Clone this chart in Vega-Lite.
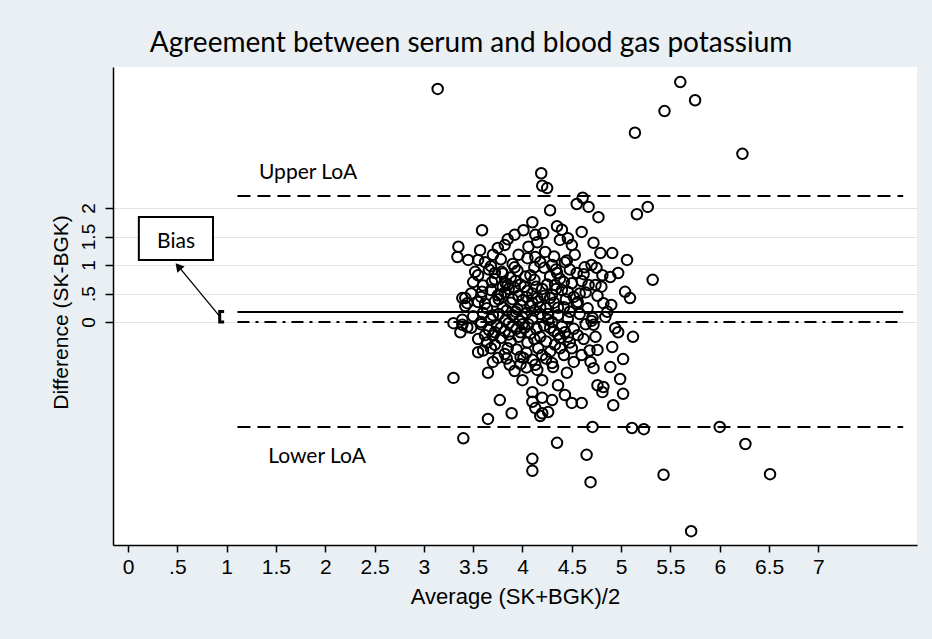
{
  "$schema": "https://vega.github.io/schema/vega-lite/v6.json",
  "width": 804,
  "height": 478,
  "autosize": {"type": "none"},
  "padding": {"left": 113, "top": 67, "right": 15, "bottom": 94},
  "background": "#e9eff2",
  "title": {"text": "Agreement between serum and blood gas potassium", "font": "Lato", "fontSize": 28, "fontWeight": "normal", "color": "black", "anchor": "middle", "dx": -44, "offset": 9},
  "config": {
    "view": {"fill": "white", "stroke": null},
    "axis": {"domainColor": "black", "tickColor": "black", "labelColor": "black", "titleColor": "black", "titleFontWeight": "normal", "domainWidth": 1.5, "tickWidth": 1.5}
  },
  "encoding": {
    "x": {"field": "average", "type": "quantitative", "scale": {"domain": [-0.152, 8.0], "nice": false, "zero": false},
      "axis": {"title": "Average (SK+BGK)/2", "values": [0, 0.5, 1, 1.5, 2, 2.5, 3, 3.5, 4, 4.5, 5, 5.5, 6, 6.5, 7], "labelExpr": "datum.value == 0.5 ? '.5' : format(datum.value, '~g')", "grid": false, "tickSize": 7, "labelFont": "Liberation Sans", "titleFont": "Liberation Sans", "labelFontSize": 21, "labelPadding": 4, "titleFontSize": 22, "titlePadding": 9, "labelFlush": false, "labelOverlap": false}},
    "y": {"field": "difference", "type": "quantitative", "scale": {"domain": [-3.912, 4.474], "nice": false, "zero": false},
      "axis": {"title": "Difference (SK-BGK)", "values": [0, 0.5, 1, 1.5, 2], "labelExpr": "datum.value == 0.5 ? '.5' : format(datum.value, '~g')", "grid": true, "gridColor": "#dbe5ea", "gridWidth": 1.2, "tickSize": 8, "labelFont": "Liberation Sans", "titleFont": "Liberation Sans", "labelFontSize": 19, "labelAngle": -90, "labelAlign": "center", "labelBaseline": "alphabetic", "labelPadding": 11, "labelOverlap": false, "labelFlush": false, "titleFontSize": 21, "titleAngle": -90, "titleAlign": "center", "titleBaseline": "alphabetic", "titleX": -46, "titleY": 245}}
  },
  "layer": [
    {
      "data": {"values": [
        {"line": "upper", "average": 1.11, "average2": 7.86, "difference": 2.21}
      ]},
      "mark": {"type": "rule", "color": "black", "strokeWidth": 2, "strokeDash": [13, 7]},
      "encoding": {"x2": {"field": "average2"}}
    },
    {
      "data": {"values": [
        {"line": "lower", "average": 1.11, "average2": 7.86, "difference": -1.84}
      ]},
      "mark": {"type": "rule", "color": "black", "strokeWidth": 2, "strokeDash": [13, 7]},
      "encoding": {"x2": {"field": "average2"}}
    },
    {
      "data": {"values": [
        {"line": "bias", "average": 1.11, "average2": 7.86, "difference": 0.175}
      ]},
      "mark": {"type": "rule", "color": "black", "strokeWidth": 2},
      "encoding": {"x2": {"field": "average2"}}
    },
    {
      "data": {"values": [
        {"line": "zero", "average": 1.11, "average2": 7.86, "difference": 0}
      ]},
      "mark": {"type": "rule", "color": "black", "strokeWidth": 2, "strokeDash": [12, 6, 3, 6]},
      "encoding": {"x2": {"field": "average2"}}
    },
    {
      "data": {"values": [
        {"o": 1, "average": 0.975, "difference": 0.185},
        {"o": 2, "average": 0.93, "difference": 0.185},
        {"o": 3, "average": 0.93, "difference": 0.0},
        {"o": 4, "average": 0.975, "difference": 0.0}
      ]},
      "mark": {"type": "line", "color": "black", "strokeWidth": 3},
      "encoding": {"order": {"field": "o", "type": "quantitative"}}
    },
    {
      "data": {"values": [
        {"o": 1, "average": 0.93, "difference": 0.1},
        {"o": 2, "average": 0.52, "difference": 0.96}
      ]},
      "mark": {"type": "line", "color": "black", "strokeWidth": 1.3},
      "encoding": {"order": {"field": "o", "type": "quantitative"}}
    },
    {
      "data": {"values": [
        {"average": 0.51, "difference": 0.975}
      ]},
      "mark": {"type": "point", "shape": "triangle-up", "filled": true, "color": "black", "size": 90, "angle": -40, "opacity": 1},
      "encoding": {}
    },
    {
      "data": {"values": [
        {"average": 0.11, "average2": 0.862, "difference": 1.842, "difference2": 1.088}
      ]},
      "mark": {"type": "rect", "fill": "white", "stroke": "black", "strokeWidth": 2},
      "encoding": {"x2": {"field": "average2"}, "y2": {"field": "difference2"}}
    },
    {
      "data": {"values": [
        {"label": "Bias", "average": 0.487, "difference": 1.404},
        {"label": "Upper LoA", "average": 1.826, "difference": 2.614},
        {"label": "Lower LoA", "average": 1.917, "difference": -2.368}
      ]},
      "mark": {"type": "text", "font": "Lato", "fontSize": 21, "color": "black", "align": "center", "baseline": "middle"},
      "encoding": {"text": {"field": "label"}}
    },
    {
      "data": {"values": [
        {"average": 3.14, "difference": 4.09}, {"average": 5.60, "difference": 4.21}, {"average": 5.75, "difference": 3.89}, {"average": 5.44, "difference": 3.70},
        {"average": 5.14, "difference": 3.32}, {"average": 6.23, "difference": 2.95}, {"average": 4.19, "difference": 2.61}, {"average": 4.20, "difference": 2.39},
        {"average": 4.25, "difference": 2.35}, {"average": 4.28, "difference": 1.96}, {"average": 4.61, "difference": 2.18}, {"average": 4.55, "difference": 2.07},
        {"average": 4.67, "difference": 2.02}, {"average": 4.77, "difference": 1.84}, {"average": 5.16, "difference": 1.89}, {"average": 5.27, "difference": 2.02},
        {"average": 4.35, "difference": 1.68}, {"average": 4.60, "difference": 1.58}, {"average": 4.46, "difference": 1.47}, {"average": 4.38, "difference": 1.44},
        {"average": 4.72, "difference": 1.39}, {"average": 4.79, "difference": 1.21}, {"average": 4.91, "difference": 1.21}, {"average": 5.06, "difference": 1.09},
        {"average": 4.97, "difference": 0.86}, {"average": 4.89, "difference": 0.79}, {"average": 4.81, "difference": 0.82}, {"average": 5.32, "difference": 0.74},
        {"average": 5.04, "difference": 0.53}, {"average": 5.09, "difference": 0.42}, {"average": 4.82, "difference": 0.33}, {"average": 4.67, "difference": 0.65},
        {"average": 4.55, "difference": 0.86}, {"average": 4.43, "difference": 1.05}, {"average": 4.30, "difference": 1.00}, {"average": 4.53, "difference": 1.18},
        {"average": 4.63, "difference": 0.96}, {"average": 4.74, "difference": 0.65}, {"average": 4.33, "difference": 0.65}, {"average": 4.46, "difference": 0.53},
        {"average": 4.56, "difference": 0.35}, {"average": 4.36, "difference": 0.25}, {"average": 4.28, "difference": 0.42}, {"average": 4.86, "difference": 0.18},
        {"average": 4.71, "difference": 0.07},
        {"average": 3.59, "difference": 1.61}, {"average": 3.35, "difference": 1.32}, {"average": 3.34, "difference": 1.14}, {"average": 3.45, "difference": 1.09},
        {"average": 3.55, "difference": 1.09}, {"average": 3.57, "difference": 1.26}, {"average": 3.70, "difference": 1.18}, {"average": 3.82, "difference": 1.35},
        {"average": 3.92, "difference": 1.53}, {"average": 4.01, "difference": 1.61}, {"average": 4.13, "difference": 1.53}, {"average": 4.21, "difference": 1.56},
        {"average": 4.06, "difference": 1.32}, {"average": 3.96, "difference": 1.18}, {"average": 4.13, "difference": 1.14}, {"average": 4.23, "difference": 1.23},
        {"average": 3.55, "difference": 0.82}, {"average": 3.39, "difference": 0.42}, {"average": 3.44, "difference": 0.33}, {"average": 3.59, "difference": 0.53},
        {"average": 3.69, "difference": 0.70}, {"average": 3.79, "difference": 0.88}, {"average": 3.85, "difference": 0.65}, {"average": 3.75, "difference": 0.47},
        {"average": 3.85, "difference": 1.45}, {"average": 4.15, "difference": 1.40}, {"average": 4.50, "difference": 1.35}, {"average": 4.10, "difference": 1.75},
        {"average": 4.40, "difference": 1.62}, {"average": 3.75, "difference": 1.30},
        {"average": 4.84, "difference": 0.09}, {"average": 4.72, "difference": -0.05}, {"average": 4.94, "difference": -0.11}, {"average": 4.97, "difference": -0.18},
        {"average": 5.12, "difference": -0.26}, {"average": 4.74, "difference": -0.26}, {"average": 4.91, "difference": -0.44}, {"average": 4.76, "difference": -0.49},
        {"average": 5.02, "difference": -0.65}, {"average": 4.89, "difference": -0.79}, {"average": 4.69, "difference": -0.70}, {"average": 4.72, "difference": -0.81},
        {"average": 4.45, "difference": -0.89}, {"average": 4.99, "difference": -1.00}, {"average": 4.76, "difference": -1.11}, {"average": 4.82, "difference": -1.14},
        {"average": 4.81, "difference": -1.23}, {"average": 5.02, "difference": -1.26}, {"average": 4.36, "difference": -1.11}, {"average": 4.43, "difference": -1.28},
        {"average": 4.50, "difference": -1.42}, {"average": 4.60, "difference": -1.42}, {"average": 4.92, "difference": -1.46}, {"average": 4.30, "difference": -1.37},
        {"average": 4.26, "difference": -1.58}, {"average": 4.71, "difference": -1.84}, {"average": 5.11, "difference": -1.86}, {"average": 5.23, "difference": -1.88},
        {"average": 4.35, "difference": -2.12}, {"average": 4.65, "difference": -2.33}, {"average": 4.50, "difference": -0.46}, {"average": 4.60, "difference": -0.58},
        {"average": 4.33, "difference": -0.40}, {"average": 4.56, "difference": -0.23}, {"average": 4.43, "difference": -0.18}, {"average": 4.30, "difference": 0.00},
        {"average": 3.30, "difference": -0.02}, {"average": 3.39, "difference": -0.05}, {"average": 3.44, "difference": -0.09}, {"average": 3.37, "difference": -0.18},
        {"average": 3.55, "difference": -0.53}, {"average": 3.65, "difference": -0.89}, {"average": 3.30, "difference": -0.98}, {"average": 3.77, "difference": -1.37},
        {"average": 3.89, "difference": -1.60}, {"average": 3.65, "difference": -1.70}, {"average": 3.40, "difference": -2.04}, {"average": 4.10, "difference": -2.40},
        {"average": 4.10, "difference": -2.61}, {"average": 4.00, "difference": -1.02}, {"average": 4.10, "difference": -1.23}, {"average": 4.20, "difference": -1.02},
        {"average": 4.20, "difference": -1.33}, {"average": 4.13, "difference": -1.51}, {"average": 4.20, "difference": -1.60}, {"average": 4.10, "difference": -1.40},
        {"average": 3.75, "difference": -0.63}, {"average": 3.87, "difference": -0.75}, {"average": 3.72, "difference": -0.40}, {"average": 3.85, "difference": -0.46},
        {"average": 4.01, "difference": -0.63}, {"average": 4.13, "difference": -0.75}, {"average": 4.20, "difference": -0.58}, {"average": 3.62, "difference": -0.23},
        {"average": 3.72, "difference": -0.18}, {"average": 4.18, "difference": -1.65}, {"average": 4.15, "difference": -0.84}, {"average": 4.31, "difference": -0.79},
        {"average": 3.98, "difference": -0.61},
        {"average": 6.00, "difference": -1.84}, {"average": 6.26, "difference": -2.14}, {"average": 6.51, "difference": -2.67}, {"average": 5.71, "difference": -3.67},
        {"average": 5.43, "difference": -2.68}, {"average": 4.69, "difference": -2.81}, {"average": 3.39, "difference": 0.04}, {"average": 3.42, "difference": 0.42},
        {"average": 3.62, "difference": 1.05}, {"average": 3.78, "difference": 1.10}, {"average": 3.90, "difference": 1.02}, {"average": 4.05, "difference": 1.12},
        {"average": 4.18, "difference": 1.05}, {"average": 4.32, "difference": 1.15}, {"average": 4.45, "difference": 1.08}, {"average": 4.70, "difference": 1.00},
        {"average": 3.68, "difference": 0.98}, {"average": 3.52, "difference": 0.88}, {"average": 3.66, "difference": 0.92}, {"average": 3.80, "difference": 0.85},
        {"average": 3.95, "difference": 0.90}, {"average": 4.08, "difference": 0.82}, {"average": 4.22, "difference": 0.95}, {"average": 4.35, "difference": 0.86},
        {"average": 4.48, "difference": 0.92}, {"average": 4.62, "difference": 0.84}, {"average": 4.75, "difference": 0.95}, {"average": 3.88, "difference": 0.78},
        {"average": 3.50, "difference": 0.70}, {"average": 3.60, "difference": 0.64}, {"average": 3.72, "difference": 0.75}, {"average": 3.83, "difference": 0.68},
        {"average": 3.93, "difference": 0.72}, {"average": 4.02, "difference": 0.62}, {"average": 4.12, "difference": 0.74}, {"average": 4.25, "difference": 0.66},
        {"average": 4.38, "difference": 0.76}, {"average": 4.50, "difference": 0.68}, {"average": 4.60, "difference": 0.72}, {"average": 4.80, "difference": 0.62},
        {"average": 4.03, "difference": 0.80}, {"average": 4.28, "difference": 0.80},
        {"average": 3.48, "difference": 0.50}, {"average": 3.58, "difference": 0.44}, {"average": 3.68, "difference": 0.56}, {"average": 3.78, "difference": 0.48},
        {"average": 3.86, "difference": 0.58}, {"average": 3.96, "difference": 0.46}, {"average": 4.05, "difference": 0.55}, {"average": 4.15, "difference": 0.42},
        {"average": 4.20, "difference": 0.58}, {"average": 4.30, "difference": 0.48}, {"average": 4.40, "difference": 0.56}, {"average": 4.52, "difference": 0.44},
        {"average": 4.64, "difference": 0.52}, {"average": 4.76, "difference": 0.46}, {"average": 3.90, "difference": 0.40}, {"average": 4.10, "difference": 0.50},
        {"average": 3.42, "difference": 0.28}, {"average": 3.55, "difference": 0.35}, {"average": 3.64, "difference": 0.24}, {"average": 3.72, "difference": 0.36},
        {"average": 3.80, "difference": 0.26}, {"average": 3.88, "difference": 0.34}, {"average": 3.95, "difference": 0.22}, {"average": 4.00, "difference": 0.38},
        {"average": 4.08, "difference": 0.28}, {"average": 4.16, "difference": 0.36}, {"average": 4.24, "difference": 0.24}, {"average": 4.32, "difference": 0.34},
        {"average": 4.42, "difference": 0.26}, {"average": 4.55, "difference": 0.32}, {"average": 4.66, "difference": 0.24}, {"average": 4.90, "difference": 0.30},
        {"average": 3.84, "difference": 0.20}, {"average": 4.12, "difference": 0.20},
        {"average": 3.50, "difference": 0.10}, {"average": 3.60, "difference": 0.16}, {"average": 3.68, "difference": 0.05}, {"average": 3.76, "difference": 0.14},
        {"average": 3.83, "difference": 0.04}, {"average": 3.90, "difference": 0.12}, {"average": 3.97, "difference": 0.02}, {"average": 4.04, "difference": 0.16},
        {"average": 4.10, "difference": 0.06}, {"average": 4.18, "difference": 0.14}, {"average": 4.26, "difference": 0.04}, {"average": 4.36, "difference": 0.12},
        {"average": 4.46, "difference": 0.06}, {"average": 4.58, "difference": 0.14}, {"average": 4.70, "difference": 0.02}, {"average": 3.93, "difference": 0.18},
        {"average": 4.00, "difference": 0.08},
        {"average": 3.48, "difference": -0.10}, {"average": 3.58, "difference": -0.04}, {"average": 3.66, "difference": -0.14}, {"average": 3.74, "difference": -0.06},
        {"average": 3.82, "difference": -0.16}, {"average": 3.90, "difference": -0.08}, {"average": 3.98, "difference": -0.18}, {"average": 4.06, "difference": -0.04},
        {"average": 4.14, "difference": -0.12}, {"average": 4.22, "difference": -0.06}, {"average": 4.32, "difference": -0.16}, {"average": 4.40, "difference": -0.08},
        {"average": 4.52, "difference": -0.12}, {"average": 4.64, "difference": -0.04}, {"average": 3.86, "difference": -0.02}, {"average": 4.02, "difference": -0.10},
        {"average": 3.55, "difference": -0.30}, {"average": 3.64, "difference": -0.36}, {"average": 3.78, "difference": -0.28}, {"average": 3.88, "difference": -0.34},
        {"average": 3.96, "difference": -0.26}, {"average": 4.05, "difference": -0.36}, {"average": 4.12, "difference": -0.30}, {"average": 4.24, "difference": -0.34},
        {"average": 4.38, "difference": -0.28}, {"average": 4.48, "difference": -0.36}, {"average": 4.62, "difference": -0.30}, {"average": 3.70, "difference": -0.24},
        {"average": 3.60, "difference": -0.50}, {"average": 3.82, "difference": -0.56}, {"average": 3.94, "difference": -0.48}, {"average": 4.04, "difference": -0.54},
        {"average": 4.16, "difference": -0.46}, {"average": 4.28, "difference": -0.52}, {"average": 4.42, "difference": -0.58}, {"average": 4.68, "difference": -0.50},
        {"average": 3.70, "difference": -0.70}, {"average": 3.98, "difference": -0.74}, {"average": 4.10, "difference": -0.66}, {"average": 4.30, "difference": -0.72},
        {"average": 4.52, "difference": -0.70}, {"average": 3.92, "difference": -0.86},
        {"average": 3.62, "difference": 0.32}, {"average": 3.70, "difference": 0.12}, {"average": 3.76, "difference": 0.40}, {"average": 3.82, "difference": 0.52},
        {"average": 3.92, "difference": 0.60}, {"average": 3.98, "difference": 0.30}, {"average": 4.04, "difference": 0.44}, {"average": 4.10, "difference": 0.34},
        {"average": 4.18, "difference": 0.26}, {"average": 4.22, "difference": 0.46}, {"average": 4.26, "difference": 0.14}, {"average": 4.34, "difference": 0.58},
        {"average": 4.44, "difference": 0.40}, {"average": 4.48, "difference": 0.18}, {"average": 4.58, "difference": 0.50}, {"average": 3.78, "difference": -0.10},
        {"average": 3.86, "difference": -0.22}, {"average": 3.94, "difference": -0.12}, {"average": 4.00, "difference": -0.04}, {"average": 4.08, "difference": -0.20},
        {"average": 4.18, "difference": -0.26}, {"average": 4.28, "difference": -0.10}, {"average": 4.36, "difference": -0.22}, {"average": 4.46, "difference": -0.26},
        {"average": 3.80, "difference": 0.62}, {"average": 3.98, "difference": 0.66}, {"average": 4.14, "difference": 0.62}, {"average": 4.34, "difference": 0.92},
        {"average": 4.42, "difference": 0.70}, {"average": 3.72, "difference": 0.86}, {"average": 3.92, "difference": 0.96}, {"average": 4.12, "difference": 0.96},
        {"average": 4.04, "difference": -0.80}, {"average": 3.84, "difference": -0.64}, {"average": 4.24, "difference": -0.64}, {"average": 4.38, "difference": -0.46},
        {"average": 3.68, "difference": -0.46}, {"average": 3.58, "difference": 0.00}
      ]},
      "mark": {"type": "point", "shape": "circle", "filled": false, "stroke": "black", "strokeWidth": 2, "size": 110, "opacity": 1}
    }
  ]
}
